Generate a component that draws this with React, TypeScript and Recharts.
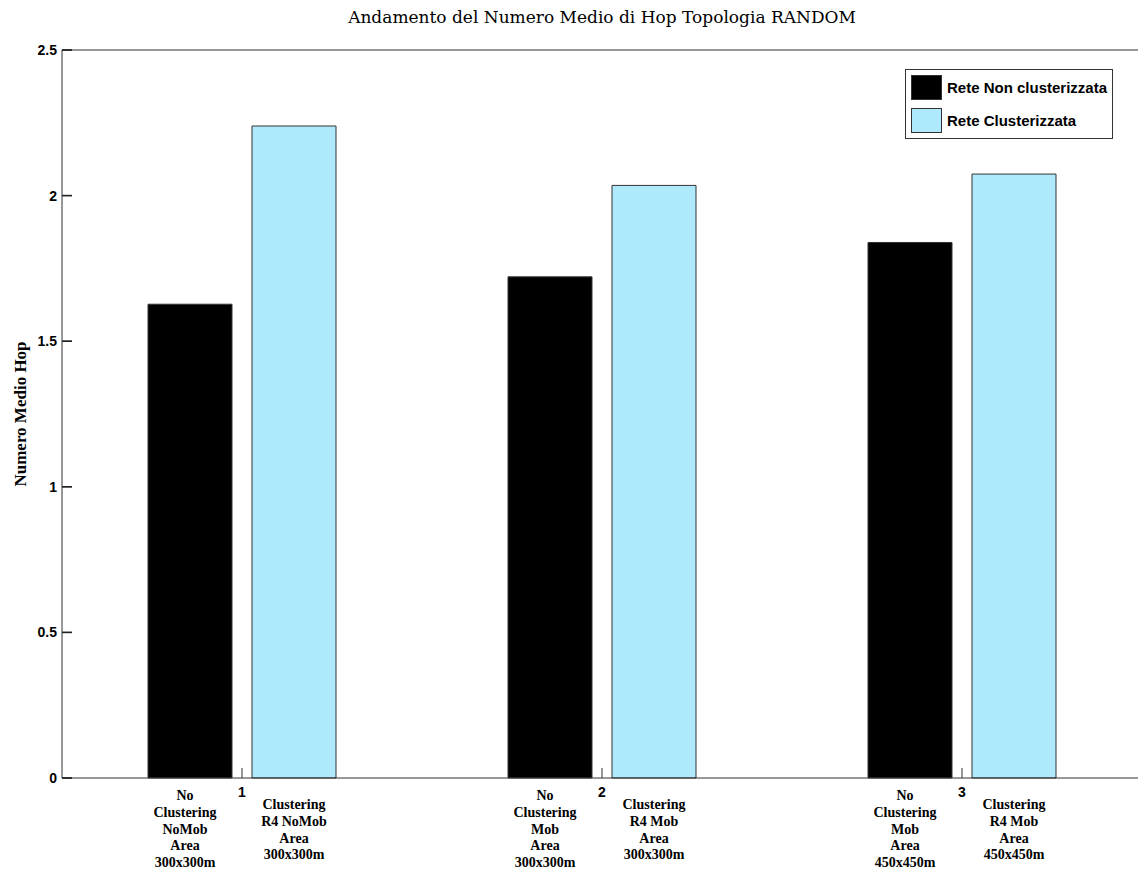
import React from 'react';
import { BarChart, Bar, XAxis, YAxis, Legend, LabelList, ReferenceLine } from 'recharts';

const categories = ['1', '2', '3'];
const nonClustered = [1.627, 1.721, 1.839];
const clustered = [2.239, 2.035, 2.074];
const nonClusteredLabels = [
  'No\nClustering\nNoMob\nArea\n300x300m',
  'No\nClustering\nMob\nArea\n300x300m',
  'No\nClustering\nMob\nArea\n450x450m',
];
const clusteredLabels = [
  'Clustering\nR4 NoMob\nArea\n300x300m',
  'Clustering\nR4 Mob\nArea\n300x300m',
  'Clustering\nR4 Mob\nArea\n450x450m',
];
const yTicks = [0, 0.5, 1, 1.5, 2, 2.5];

const SERIES_NAMES = ['Rete Non clusterizzata', 'Rete Clusterizzata'];
const BLUE = '#aeeafc';
const SERIES_COLORS = ['#000', BLUE];
const AXIS = '#333';
const SANS = '"Liberation Sans", Arial, sans-serif';
const SERIF = '"Liberation Serif", "Times New Roman", serif';

const data = categories.map((cat, i) => ({
  cat,
  nonClustered: nonClustered[i],
  clustered: clustered[i],
  nonClusteredLabel: nonClusteredLabels[i],
  clusteredLabel: clusteredLabels[i],
}));

const LeftTick = (props: any) => {
  const { x, y, payload } = props;
  return (
    <g>
      <rect x={Number(x) + 5} y={Number(y) - 0.8} width={10} height={1.6} fill="#222" />
      <text x={x} y={y} textAnchor="end" dominantBaseline="central" fontFamily={SANS} fontWeight="bold" fontSize={14} fill="#000">
        {payload.value}
      </text>
    </g>
  );
};

const RightTick = (props: any) => {
  const { x, y } = props;
  return (
    <g>
      <rect x={Number(x)} y={Number(y) - 0.8} width={10} height={1.6} fill="#222" />
    </g>
  );
};

const BottomTick = (props: any) => {
  const { x, y, payload } = props;
  const ay = Number(y) - 14;
  return (
    <g>
      <rect x={Number(x) - 0.5} y={ay - 10} width={1} height={10} fill={AXIS} />
      <text x={x} y={y} textAnchor="middle" dominantBaseline="central" fontFamily={SANS} fontWeight="bold" fontSize={14} fill="#000">
        {payload.value}
      </text>
    </g>
  );
};

const makeBarLabel = (dx: number, dy: number) => (props: any) => {
  const { x, y, width, height, value } = props;
  const lines = String(value).split('\n');
  const cx = x + width / 2 + dx;
  const top = y + height + dy;
  return (
    <text x={cx} y={top} textAnchor="middle" fontFamily={SERIF} fontWeight="bold" fontSize={14} fill="#000">
      {lines.map((l, i) => (
        <tspan key={i} x={cx} dy={i === 0 ? 0 : 16.8}>
          {l}
        </tspan>
      ))}
    </text>
  );
};

const LegendBox = () => (
  <div
    style={{
      width: 206,
      height: 68,
      border: '1px solid #333',
      background: '#fff',
      boxSizing: 'content-box',
      position: 'relative',
    }}
  >
    {SERIES_NAMES.map((name, i) => (
      <div key={name} style={{ position: 'absolute', left: 5, top: 5 + i * 33, display: 'flex', alignItems: 'center' }}>
        <div
          style={{
            width: 31,
            height: 25,
            background: SERIES_COLORS[i],
            border: '1px solid #333',
            boxSizing: 'border-box',
          }}
        />
        <span style={{ marginLeft: 5, fontFamily: SANS, fontWeight: 'bold', fontSize: 15, color: '#000', whiteSpace: 'nowrap' }}>
          {name}
        </span>
      </div>
    ))}
  </div>
);

export default function App() {
  return (
    <div style={{ position: 'absolute', left: 0, top: 0, width: 1138, height: 871, overflow: 'hidden', background: '#fff' }}>
      <div
        style={{
          position: 'absolute',
          left: 62,
          width: 1080,
          top: 7,
          lineHeight: '20px',
          textAlign: 'center',
          fontFamily: '"DejaVu Serif", serif',
          fontSize: 17,
          color: '#000',
          zIndex: 2,
        }}
      >
        Andamento del Numero Medio di Hop Topologia RANDOM
      </div>
      <BarChart
        width={1160}
        height={871}
        data={data}
        margin={{ top: 50, right: 17, bottom: 92, left: 0 }}
        barSize={84}
        barGap={20}
        barCategoryGap={0}
      >
        <XAxis
          dataKey="cat"
          height={1}
          tickSize={0}
          tickMargin={14}
          tickLine={false}
          axisLine={{ stroke: AXIS }}
          tick={<BottomTick />}
          interval={0}
        />
        <YAxis
          width={62}
          domain={[0, 2.5]}
          ticks={yTicks}
          tickSize={-10}
          tickMargin={15}
          tickLine={{ stroke: AXIS }}
          axisLine={{ stroke: AXIS }}
          tick={<LeftTick />}
          label={(p: any) => {
            const vb = p.viewBox || { x: 0, y: 50, width: 62, height: 728 };
            const cx = 20;
            const cy = vb.y + vb.height / 2;
            return (
              <text
                x={cx}
                y={cy}
                transform={`rotate(-90 ${cx} ${cy})`}
                textAnchor="middle"
                dominantBaseline="central"
                fontFamily={SERIF}
                fontWeight="bold"
                fontSize={17}
                fill="#000"
              >
                Numero Medio Hop
              </text>
            );
          }}
        />
        <YAxis
          yAxisId="right"
          orientation="right"
          width={1}
          domain={[0, 2.5]}
          ticks={yTicks}
          tickSize={-10}
          tickMargin={0}
          tickLine={{ stroke: AXIS }}
          axisLine={{ stroke: AXIS }}
          tick={<RightTick />}
        />
        <ReferenceLine y={2.5} stroke={AXIS} ifOverflow="visible" />
        <Legend
          layout="horizontal"
          verticalAlign="middle"
          align="center"
          content={<LegendBox />}
          wrapperStyle={{ position: 'absolute', left: 905, top: 69, width: 208 }}
        />
        <Bar dataKey="nonClustered" name={SERIES_NAMES[0]} fill={SERIES_COLORS[0]} stroke={AXIS} isAnimationActive={false}>
          <LabelList dataKey="nonClusteredLabel" content={makeBarLabel(-5, 22)} />
        </Bar>
        <Bar dataKey="clustered" name={SERIES_NAMES[1]} fill={SERIES_COLORS[1]} stroke={AXIS} isAnimationActive={false}>
          <LabelList dataKey="clusteredLabel" content={makeBarLabel(0, 31)} />
        </Bar>
      </BarChart>
    </div>
  );
}
